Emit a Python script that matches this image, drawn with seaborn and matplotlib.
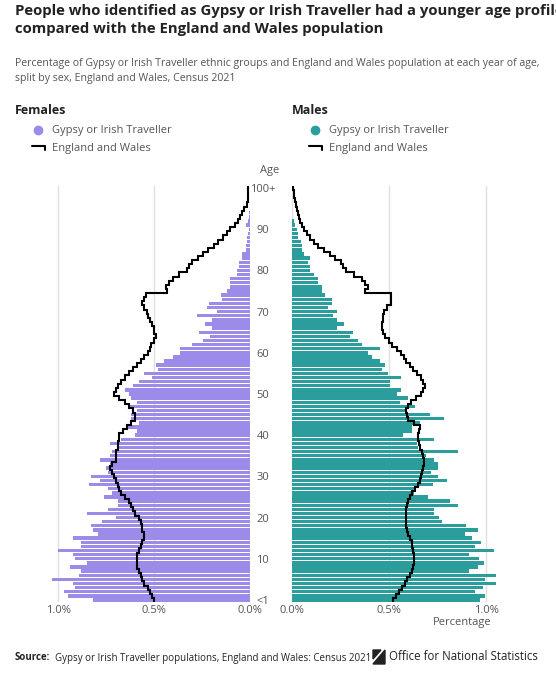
import numpy as np
import pandas as pd
import matplotlib
matplotlib.use("Agg")
import matplotlib.pyplot as plt
import seaborn as sns

sns.set_style("white")
plt.rcParams['font.family'] = ['Open Sans', 'DejaVu Sans']

ages = list(range(0, 101))
tick_ages = [0, 10, 20, 30, 40, 50, 60, 70, 80, 90, 100]
tick_labels = ["<1", "10", "20", "30", "40", "50", "60", "70", "80", "90", "100+"]

fem_ew = [.50,.51,.52,.53,.55,.56,.57,.58,.59,.59,
          .59,.59,.58,.57,.56,.55,.55,.56,.56,.57,
          .58,.60,.61,.62,.63,.65,.67,.68,.69,.70,
          .71,.72,.73,.72,.70,.70,.70,.69,.69,.68,
          .68,.66,.64,.62,.60,.60,.61,.63,.65,.68,
          .71,.70,.69,.67,.65,.63,.61,.59,.57,.55,
          .53,.52,.515,.50,.49,.50,.50,.51,.52,.53,
          .535,.55,.56,.55,.54,.43,.435,.42,.40,.37,
          .33,.32,.30,.27,.245,.22,.19,.165,.14,.12,
          .105,.08,.06,.05,.04,.03,.017,.013,.01,.008,.01]
fem_gt = [.82,.95,.97,.91,.92,1.03,.89,.88,.94,.85,
          .91,.92,1.0,.88,.88,.92,.79,.82,.83,.77,
          .70,.85,.74,.69,.69,.76,.72,.74,.84,.78,
          .83,.74,.75,.73,.78,.73,.72,.68,.73,.67,
          .60,.59,.64,.58,.62,.62,.59,.63,.59,.62,
          .63,.65,.61,.58,.51,.55,.48,.49,.45,.40,
          .365,.365,.30,.245,.21,.265,.20,.235,.20,.275,
          .17,.225,.215,.145,.15,.12,.105,.105,.105,.07,
          .07,.055,.058,.04,.04,.02,.02,.018,.015,.008,
          .006,.02,.008,.004,.004,0,0,0,0,0,0]
male_ew = [.52,.535,.55,.565,.58,.595,.61,.62,.625,.63,
           .63,.63,.625,.62,.62,.61,.60,.595,.59,.59,
           .59,.59,.59,.595,.60,.61,.62,.635,.65,.66,
           .665,.67,.675,.68,.68,.675,.67,.66,.655,.65,
           .65,.655,.66,.63,.60,.595,.59,.60,.615,.64,
           .665,.675,.685,.675,.665,.645,.625,.61,.59,.575,
           .56,.54,.515,.50,.48,.47,.465,.465,.47,.47,
           .475,.49,.51,.51,.51,.375,.39,.375,.36,.32,
           .28,.265,.25,.22,.195,.165,.135,.115,.093,.075,
           .06,.05,.04,.035,.03,.025,.02,.015,.012,.008,.006]
male_gt = [.97,.995,.945,.985,1.05,.995,1.05,.91,.96,.99,
           .965,.91,1.04,.945,.975,.93,.89,.96,.895,.775,
           .76,.73,.73,.855,.815,.70,.63,.64,.725,.80,
           .75,.715,.755,.75,.73,.69,.855,.65,.645,.73,
           .57,.62,.62,.66,.785,.71,.58,.635,.555,.60,
           .54,.56,.505,.505,.56,.495,.465,.48,.455,.41,
           .39,.455,.36,.34,.30,.315,.23,.27,.23,.21,
           .23,.185,.205,.205,.17,.155,.155,.135,.135,.115,
           .093,.093,.085,.093,.06,.05,.05,.045,.03,.03,
           .025,.015,.01,0,0,0,0,0,0,0,0]

PURPLE = "#9d8bea"
TEAL = "#2a9d9c"
W, H = 556, 680
fig = plt.figure(figsize=(W/100, H/100), dpi=100)

def px(x0, y0, x1, y1):
    return [x0/W, 1-y1/H, (x1-x0)/W, (y1-y0)/H]

XMAX = 1.07
axL = fig.add_axes(px(250-XMAX*192, 186, 250, 602))
axR = fig.add_axes(px(292, 186, 292+XMAX*194, 602))

def step_xy(vals):
    xs, ys = [], []
    for a, v in zip(ages, vals):
        xs += [v, v]
        ys += [a-0.5, a+0.5]
    return xs, ys

for ax, gt, ew, col in [(axL, fem_gt, fem_ew, PURPLE), (axR, male_gt, male_ew, TEAL)]:
    df = pd.DataFrame({"age": ages, "pct": gt})
    for g in [0, 0.5, 1.0]:
        ax.axvline(g, color="#e0e0e0", lw=1, zorder=0)
    sns.barplot(data=df, x="pct", y="age", orient="y", native_scale=True,
                color=col, width=0.82, saturation=1, linewidth=0, ax=ax, zorder=2)
    xs, ys = step_xy(ew)
    ax.plot(xs, ys, color="black", lw=1.5, zorder=3, solid_joinstyle="miter")
    ax.set_ylim(-0.5, 100.5)
    ax.set_xlabel(""); ax.set_ylabel("")
    for s in ax.spines.values():
        s.set_visible(False)
    ax.set_xticks([0, 0.5, 1.0], ["0.0%", "0.5%", "1.0%"])
    ax.tick_params(axis="x", length=0, pad=2, labelsize=8, labelcolor="#555555")
    ax.patch.set_alpha(0)

axL.set_xlim(XMAX, 0)
axR.set_xlim(0, XMAX)
axL.set_yticks([])
axR.set_yticks(tick_ages, tick_labels)
axR.tick_params(axis="y", length=0, pad=21, labelsize=8, labelcolor="#555555")
for t in axR.get_yticklabels():
    t.set_horizontalalignment("center")

fig.text(270/W, 1-170/H, "Age", ha="center", va="center", fontsize=8, color="#555555")
fig.text(492/W, 1-622/H, "Percentage", ha="right", va="center", fontsize=8, color="#555555")

fig.text(15/W, 1-20/H, "People who identified as Gypsy or Irish Traveller had a younger age profile\ncompared with the England and Wales population",
         ha="left", va="center", fontsize=10.7, fontweight="bold", color="#222222", linespacing=1.4)
fig.text(15/W, 1-71/H, "Percentage of Gypsy or Irish Traveller ethnic groups and England and Wales population at each year of age,\nsplit by sex, England and Wales, Census 2021",
         ha="left", va="center", fontsize=7.6, color="#555555", linespacing=1.45)

for x0, lab, col in [(15, "Females", PURPLE), (292, "Males", TEAL)]:
    fig.text(x0/W, 1-111/H, lab, ha="left", va="center", fontsize=9, fontweight="bold", color="#222222")
    fig.add_artist(plt.Line2D([(x0+23)/W], [1-130/H], marker="o", markersize=6, color=col, ls=""))
    fig.text((x0+37)/W, 1-130/H, "Gypsy or Irish Traveller", ha="left", va="center", fontsize=8, color="#555555")
    fig.add_artist(plt.Line2D([(x0+17)/W, (x0+30)/W, (x0+30)/W], [1-146/H, 1-146/H, 1-150/H], color="black", lw=1.5))
    fig.text((x0+37)/W, 1-148/H, "England and Wales", ha="left", va="center", fontsize=8, color="#555555")

fig.text(15/W, 1-658/H, "Source:", ha="left", va="center", fontsize=7, fontweight="bold", color="#222222")
fig.text(55/W, 1-658/H, "Gypsy or Irish Traveller populations, England and Wales: Census 2021",
         ha="left", va="center", fontsize=7, color="#222222")
fig.add_artist(plt.Polygon([[373/W, 1-664/H], [385/W, 1-650/H], [385/W, 1-664/H]], color="#222222"))
fig.add_artist(plt.Polygon([[373/W, 1-650/H], [381/W, 1-650/H], [373/W, 1-659/H]], color="#222222"))
fig.text(389/W, 1-657/H, "Office for National Statistics", ha="left", va="center", fontsize=8.3, color="#222222")

fig.savefig("out.png", dpi=100)
